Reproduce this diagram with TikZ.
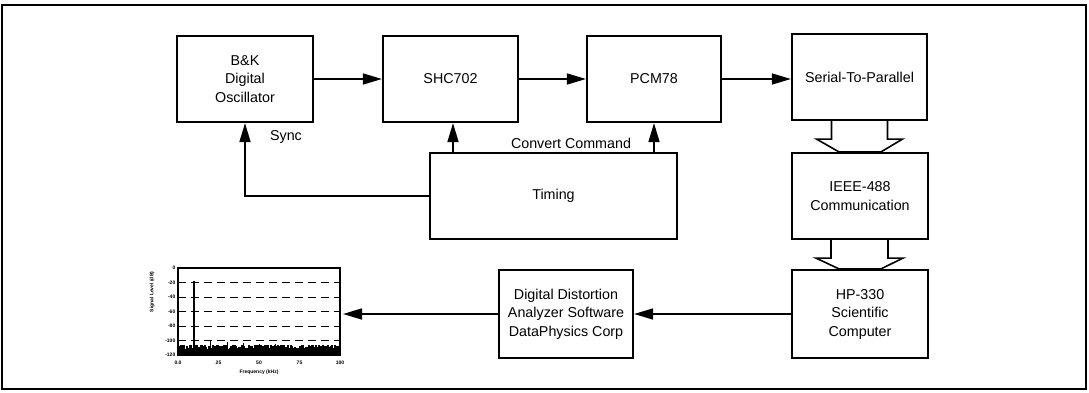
\documentclass[tikz,border=0pt]{standalone}
\usepackage{fontspec}
\setmainfont{Liberation Sans}
\usetikzlibrary{arrows.meta,calc,backgrounds}
\begin{document}
\begin{tikzpicture}[x=1pt,y=-1pt,
  blk/.style={draw, line width=2.2pt, rectangle, align=center,
    font=\fontsize{14.3}{18.5}\selectfont, inner sep=0pt},
  conn/.style={line width=1.6pt, -{Triangle[length=19pt,width=11pt]}},
  hollow/.style={draw, line width=1.6pt, fill=white, line join=miter},
  lbl/.style={font=\fontsize{14.3}{18.5}\selectfont, inner sep=0pt},
  tick/.style={font=\fontsize{5}{6}\selectfont\bfseries, inner sep=0.5pt},
  grid/.style={line width=1pt, dash pattern=on 8pt off 5pt},
]
\useasboundingbox (0,0) rectangle (1089,393);
\draw[line width=2pt] (2,5) rectangle (1086,389);

% blocks
\node[blk, minimum width=136pt, minimum height=86pt] (bk) at (245,79) {B\&K\\Digital\\Oscillator};
\node[blk, minimum width=135pt, minimum height=86pt] (shc) at (450.5,79) {SHC702};
\node[blk, minimum width=134pt, minimum height=86pt] (pcm) at (654,79) {PCM78};
\node[blk, minimum width=135pt, minimum height=86pt] (sp) at (859.5,77) {Serial-To-Parallel};
\node[blk, minimum width=247pt, minimum height=86pt] (tim) at (553.5,196) {Timing};
\node[blk, minimum width=136pt, minimum height=86pt] (ieee) at (860,196) {IEEE-488\\Communication};
\node[blk, minimum width=136pt, minimum height=88pt] (hp) at (860,314) {HP-330\\Scientific\\Computer};
\node[blk, minimum width=134pt, minimum height=88pt] (dd) at (566,314) {Digital Distortion\\Analyzer Software\\DataPhysics Corp};

% labels
\node[lbl] (sync) at (286,137) {Sync};
\node[lbl] (conv) at (571,143) {Convert Command};

% connectors
\draw[conn] (bk.east) -- (shc.west |- bk.east);
\draw[conn] (shc.east) -- (pcm.west |- shc.east);
\draw[conn] (pcm.east) -- (sp.west |- pcm.east);
\draw[conn] (tim.north -| 453,0) -- (shc.south -| 453,0);
\draw[conn] (tim.north -| pcm.south) -- (pcm.south);
\draw[conn] (tim.west) -- (tim.west -| bk.south) -- (bk.south);
\draw[conn] (hp.west) -- (dd.east |- hp.west);
\coordinate (chartR) at (343,314);
\draw[conn] (dd.west) -- (chartR);

% hollow (bus) arrows
\begin{scope}[on background layer]
\draw[hollow] ($(sp.south)+(-28,0)$) -- ++(0,18) -- ++(-15,0)
  -- ($(ieee.north)+(-21,0)$) -- ($(ieee.north)+(21,0)$)
  -- ($(sp.south)+(43,18)$) -- ($(sp.south)+(28,18)$) -- ($(sp.south)+(28,0)$);
\draw[hollow] ($(ieee.south)+(-29,0)$) -- ++(0,18) -- ++(-15,0)
  -- ($(hp.north)+(-21,0)$) -- ($(hp.north)+(21,0)$)
  -- ($(ieee.south)+(43,18)$) -- ($(ieee.south)+(28,18)$) -- ($(ieee.south)+(28,0)$);
\end{scope}

% spectrum plot
\pgfmathsetseed{12}
\foreach \i in {0,...,161} {
  \pgfmathsetmacro{\h}{6+4.5*rnd}
  \draw[line width=1.2pt] (178+\i,355) -- (178+\i,355-\h);
}
\draw[line width=1.3pt] (194,355) -- (194,281);
\draw[line width=0.9pt] (210,355) -- (210,340);
\draw[line width=0.9pt] (227,355) -- (227,342);
\draw[line width=0.9pt] (243,355) -- (243,343);
\draw[line width=0.9pt] (259,355) -- (259,344);
\draw[line width=0.9pt] (275,355) -- (275,344);
\foreach \v in {1,...,5} \draw[grid] (178,268+14.5*\v) -- (340,268+14.5*\v);
\draw[line width=1.4pt] (178,268) rectangle (340,355);
\foreach \v/\t in {0/0,1/-20,2/-40,3/-60,4/-80,5/-100,6/-120}
  \node[tick, anchor=east] (yt\v) at (176,268+14.5*\v) {\t};
\foreach \f/\t in {0/0.0,25/25,50/50,75/75,100/100}
  \node[tick] (xt\f) at (178+1.62*\f,363) {\t};
\node[tick] (xlab) at (259,372) {Frequency (kHz)};
\node[tick, rotate=90] (ylab) at (152,292) {Signal Level (dB)};
\end{tikzpicture}
\end{document}
